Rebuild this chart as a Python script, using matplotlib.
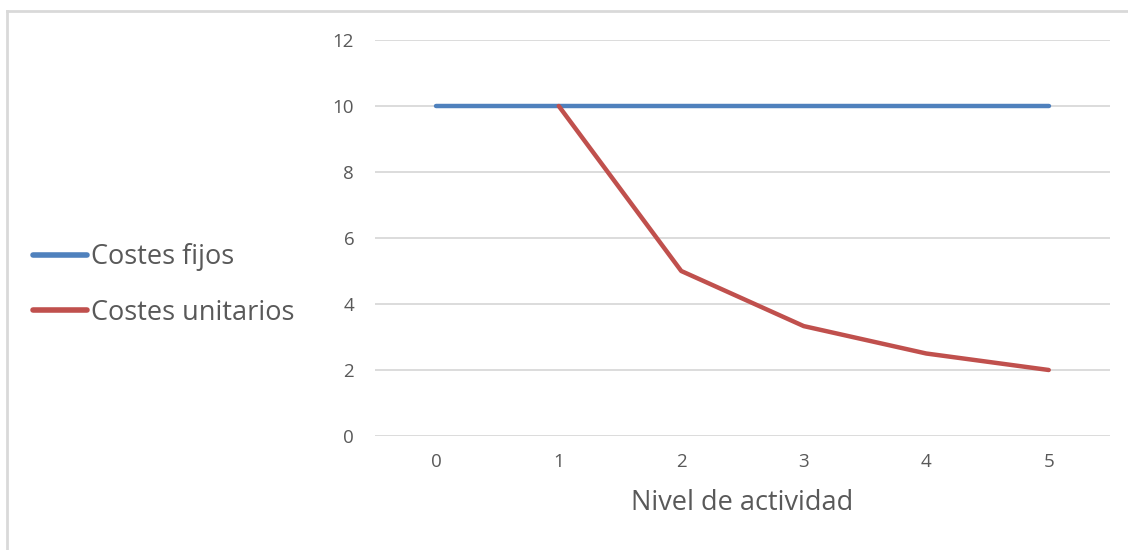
import matplotlib.pyplot as plt
from matplotlib.lines import Line2D
import numpy as np

plt.rcParams['font.family'] = ['Open Sans', 'DejaVu Sans']

nivel = [0, 1, 2, 3, 4, 5]
costes_fijos = [10, 10, 10, 10, 10, 10]
costes_unitarios = [np.nan, 10, 5, 3.33, 2.5, 2]
y_ticks = [0, 2, 4, 6, 8, 10, 12]

azul = '#4F81BD'
rojo = '#C0504D'
gris_texto = '#595959'
gris_rejilla = '#D9D9D9'

fig = plt.figure(figsize=(11.28, 5.5), dpi=100)
ax = fig.add_axes([375 / 1128, 1 - 436 / 550, (1110 - 375) / 1128, (436 - 40) / 550])

x = np.arange(len(nivel))
l1, = ax.plot(x, costes_fijos, color=azul, lw=3.2, solid_capstyle='round', zorder=3)
l2, = ax.plot(x, costes_unitarios, color=rojo, lw=3.2, solid_capstyle='round', zorder=4)

ax.set_xlim(-0.5, len(nivel) - 0.5)
ax.set_ylim(0, 12)
ax.set_yticks(y_ticks)
ax.set_xticks(x)
ax.set_xticklabels([str(n) for n in nivel])
ax.grid(axis='y', color=gris_rejilla, lw=1.3)
ax.set_axisbelow(True)
for s in ax.spines.values():
    s.set_visible(False)
ax.tick_params(length=0, labelsize=13.5, colors=gris_texto)
ax.tick_params(axis='y', pad=15)
ax.tick_params(axis='x', pad=12)
ax.set_xlabel('Nivel de actividad', fontsize=19.5, color=gris_texto, labelpad=13)

leg = fig.legend([Line2D([], [], color=azul, lw=4, solid_capstyle='round'),
                  Line2D([], [], color=rojo, lw=4, solid_capstyle='round')],
                 ['Costes fijos', 'Costes unitarios'],
                 loc='center left', bbox_to_anchor=(33 / 1128, 1 - 285 / 550),
                 frameon=False, fontsize=19.5, handlelength=2.0, handletextpad=0.15,
                 labelspacing=1.0, borderaxespad=0, borderpad=0)
for t in leg.get_texts():
    t.set_color(gris_texto)

# chart border
fig.add_artist(Line2D([7 / 1128, 7 / 1128], [0, 1 - 11 / 550], transform=fig.transFigure,
                      color=gris_rejilla, lw=2))
fig.add_artist(Line2D([7 / 1128, 1], [1 - 11 / 550, 1 - 11 / 550], transform=fig.transFigure,
                      color=gris_rejilla, lw=2))

fig.savefig('out.png', dpi=100)
